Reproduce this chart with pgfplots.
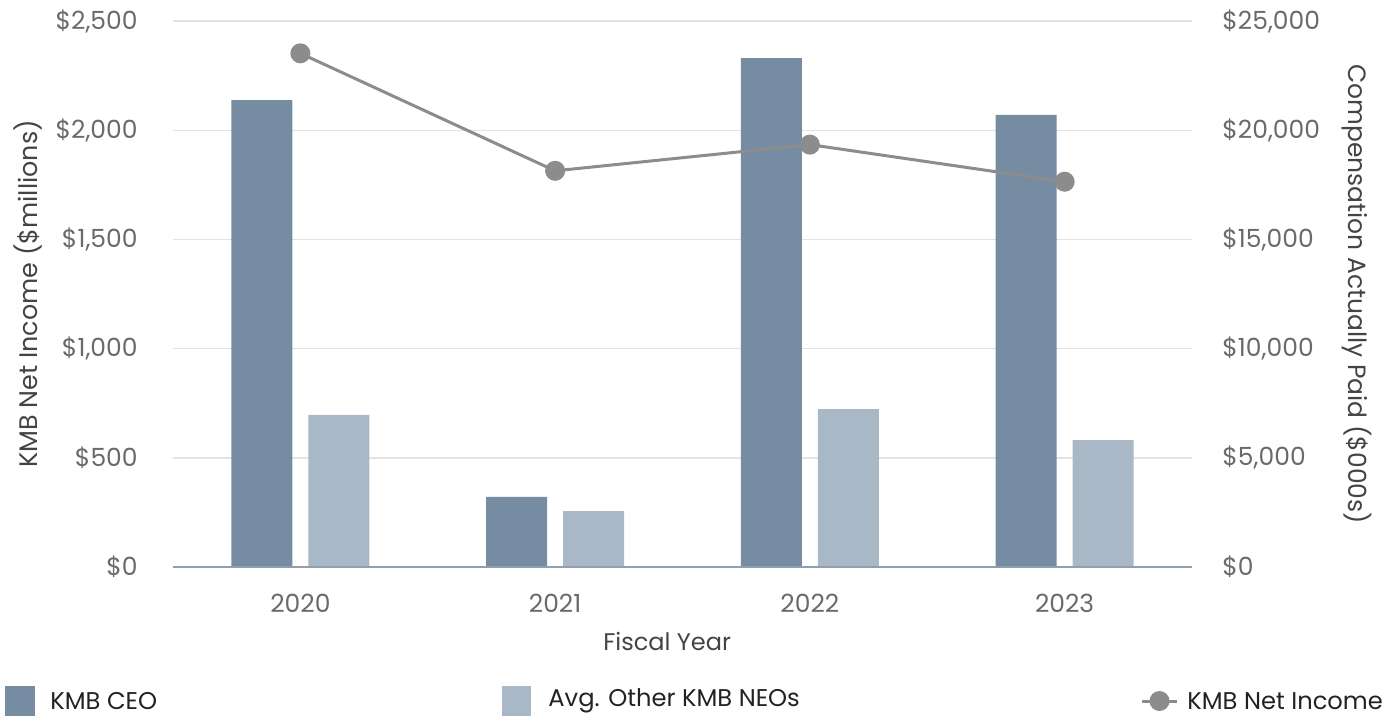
\documentclass[border=0pt]{standalone}
\usepackage{fontspec}
\setmainfont{Poppins}
\usepackage{pgfplots}
\pgfplotsset{compat=1.18}
\definecolor{ceo}{HTML}{758CA2}
\definecolor{neo}{HTML}{A9B8C6}
\definecolor{ni}{HTML}{8C8C8C}
\definecolor{gridc}{HTML}{E3E3E3}
\definecolor{basec}{HTML}{8FA0B1}
\definecolor{tickc}{HTML}{6A6A6A}
\definecolor{titc}{HTML}{444444}
\definecolor{legc}{HTML}{222222}
\begin{document}
\begin{tikzpicture}
\useasboundingbox (0,0) rectangle (698.5pt,359.5pt);
\pgfplotsset{
  common/.style={
    scale only axis, width=509.5pt, height=273pt,
    at={(86.5pt,76pt)}, anchor=south west,
    xmin=-0.5, xmax=3.5, ymin=0,
    axis line style={draw=none}, tick style={draw=none},
    xtick={0,1,2,3},
    scaled y ticks=false,
    tick label style={font=\fontsize{12.5}{14}\selectfont, text=tickc},
  }
}
% bars on the right-hand scale
\begin{axis}[common,
  ymax=25000, ytick={0,5000,10000,15000,20000,25000},
  ymajorgrids, grid style={gridc, line width=0.7pt},
  yticklabel pos=right,
  yticklabel={\$\pgfmathprintnumber[assume math mode=true,1000 sep={,}]{\tick}},
  yticklabel style={anchor=west, inner sep=0pt, xshift=15pt},
  xticklabels={2020,2021,2022,2023},
  xticklabel style={anchor=center, inner sep=0pt, yshift=-18pt},
  ylabel={Compensation Actually Paid (\$000s)},
  every axis y label/.style={at={(axis description cs:1.162,0.5)}, rotate=-90, anchor=center,
    font=\fontsize{12.5}{15}\selectfont, text=titc},
  xlabel={Fiscal Year},
  every axis x label/.style={at={(axis description cs:0.485,0)}, yshift=-37pt, anchor=center,
    font=\fontsize{12}{15}\selectfont, text=titc},
]
\addplot[ybar, bar width=30.5pt, bar shift=-19.25pt, fill=ceo, draw=none]
  coordinates {(0,21380) (1,3210) (2,23300) (3,20700)};
\addplot[ybar, bar width=30.5pt, bar shift=19.25pt, fill=neo, draw=none]
  coordinates {(0,6960) (1,2560) (2,7230) (3,5810)};
\end{axis}
% line on the left-hand scale
\begin{axis}[common,
  ymax=2500, ytick={0,500,1000,1500,2000,2500},
  xticklabels={},
  yticklabel={\$\pgfmathprintnumber[assume math mode=true,1000 sep={,}]{\tick}},
  yticklabel style={anchor=east, inner sep=0pt, xshift=-17.5pt},
  extra y ticks={0}, extra y tick labels={},
  extra y tick style={grid=major, major grid style={basec, line width=1pt}},
  ylabel={KMB Net Income (\$millions)},
  every axis y label/.style={at={(axis description cs:-0.1423,0.5)}, rotate=90, anchor=center,
    font=\fontsize{12.7}{15}\selectfont, text=titc},
]
\addplot[ni, line width=1.5pt, mark=*, mark size=4.25pt, mark options={fill=ni, draw=ni}]
  coordinates {(0,2352) (1,1814) (2,1934) (3,1764)};
\end{axis}
% legend
\fill[ceo] (2.5pt,1.5pt) rectangle (17.5pt,16.5pt);
\node[anchor=west, inner sep=0pt, font=\fontsize{12.1}{14}\selectfont, text=legc] at (25pt,9pt) {KMB CEO};
\fill[neo] (251pt,1.5pt) rectangle (265.5pt,16.5pt);
\node[anchor=west, inner sep=0pt, font=\fontsize{12.1}{14}\selectfont, text=legc] at (274pt,9pt) {Avg. Other KMB NEOs};
\draw[ni, line width=1.5pt] (571pt,9pt) -- (588.5pt,9pt);
\fill[ni] (579.75pt,9pt) circle (5pt);
\node[anchor=west, inner sep=0pt, font=\fontsize{12.1}{14}\selectfont, text=legc] at (593.5pt,9pt) {KMB Net Income};
\end{tikzpicture}
\end{document}
